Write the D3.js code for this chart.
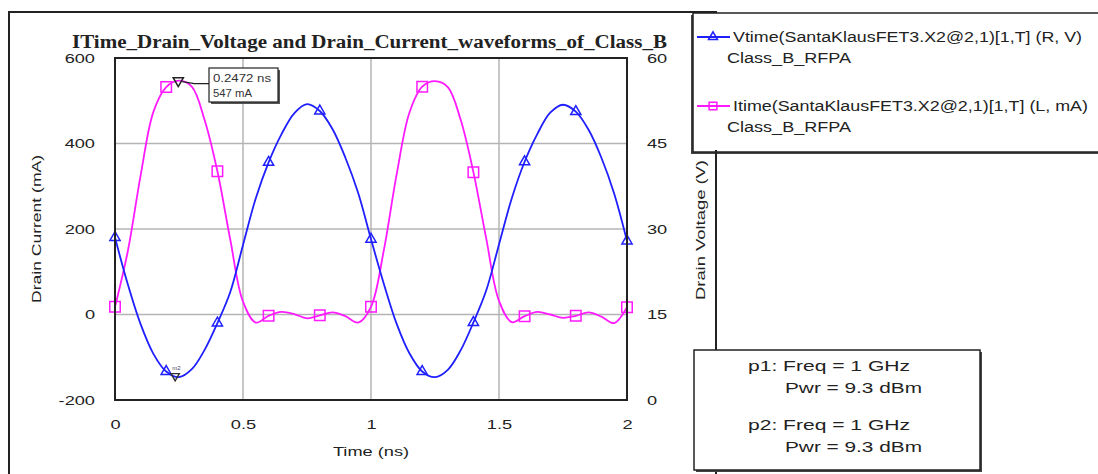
<!DOCTYPE html>
<html>
<head>
<meta charset="utf-8">
<style>
  body { margin: 0; background: #fff; }
  svg { display: block; font-family: 'Liberation Sans', Arial, sans-serif; }
  .tick text { fill: #222; font-size: 13px; }
  .lbl { fill: #222; font-size: 13px; }
</style>
</head>
<body>
<svg id="chart" width="1098" height="474"></svg>
<script src="https://d3js.org/d3.v7.min.js"></script>
<script>
'use strict';

// time samples (ns), every 0.05 ns
var timeNs = [0, 0.05, 0.1, 0.15, 0.2, 0.25, 0.3, 0.35, 0.4, 0.45, 0.5, 0.55, 0.6, 0.65, 0.7, 0.75, 0.8, 0.85, 0.9, 0.95, 1.0,
  1.05, 1.1, 1.15, 1.2, 1.25, 1.3, 1.35, 1.4, 1.45, 1.5, 1.55, 1.6, 1.65, 1.7, 1.75, 1.8, 1.85, 1.9, 1.95, 2.0];
// Vtime (V), right axis
var drainVoltage = [28.5, 20.3, 13.3, 8.1, 5.0, 4.0, 5.4, 8.8, 13.5, 18.9, 27.2, 35.4, 41.7, 46.6, 50.3, 51.9, 50.7, 47.5, 42.5, 36.3, 28.2,
  20.4, 13.4, 8.2, 5.0, 4.0, 5.3, 8.7, 13.6, 19.2, 27.3, 35.4, 41.8, 46.7, 50.4, 51.8, 50.6, 47.4, 42.5, 36.2, 27.9];
// Itime (mA), left axis
var drainCurrent = [18, 148, 325, 474, 532, 547, 533, 455, 335, 176, 30, -19, -3, 6, 1, -9, -2, 5, -4, -19, 18,
  150, 327, 472, 533, 546, 532, 456, 333, 178, 32, -18, -4, 6, 0, -8, -3, 5, -5, -20, 17];
var markerTimes = [0, 0.2, 0.4, 0.6, 0.8, 1.0, 1.2, 1.4, 1.6, 1.8, 2.0];

var xTicks = [0, 0.5, 1, 1.5, 2];
var currentTicks = [-200, 0, 200, 400, 600];
var voltageTicks = [0, 15, 30, 45, 60];

var m1Time = 0.2472, m1Current = 547;
var m2Time = 0.235, m2Voltage = 4.2;

var titleText = 'ITime_Drain_Voltage and Drain_Current_waveforms_of_Class_B';
var legendNames = ['Vtime(SantaKlausFET3.X2@2,1)[1,T] (R, V)', 'Itime(SantaKlausFET3.X2@2,1)[1,T] (L, mA)'];
var legendSub = 'Class_B_RFPA';
var paramLines = ['p1: Freq = 1 GHz', 'Pwr = 9.3 dBm', 'p2: Freq = 1 GHz', 'Pwr = 9.3 dBm'];

var blue = '#1f1fff', pink = '#ff1aff';
var svg = d3.select('#chart');

// the original screenshot is stretched sideways, so widen glyphs to match
function stretch(sel, k) {
  sel.each(function () {
    var w = this.getComputedTextLength();
    d3.select(this).attr('textLength', w * k).attr('lengthAdjust', 'spacingAndGlyphs');
  });
}
function fitTo(sel, w) {
  sel.attr('textLength', w).attr('lengthAdjust', 'spacingAndGlyphs');
}

var pLeft = 115, pRight = 627, pTop = 58, pBottom = 400;
var x = d3.scaleLinear().domain([0, 2]).range([pLeft, pRight]);
var yI = d3.scaleLinear().domain([-200, 600]).range([pBottom, pTop]);
var yV = d3.scaleLinear().domain([0, 60]).range([pBottom, pTop]);

// outer frame
svg.append('path')
  .attr('d', 'M9,480 L9,12 L716,12 L716,480')
  .attr('fill', 'none').attr('stroke', '#222').attr('stroke-width', 2);

// title
svg.append('text')
  .attr('x', 72).attr('y', 48)
  .style('font-family', "'Liberation Serif', 'Times New Roman', serif")
  .style('font-weight', 'bold').style('font-size', '18px').attr('fill', '#222')
  .text(titleText)
  .call(fitTo, 595);

// grid
var grid = svg.append('g').attr('stroke', '#b4b4b4').attr('stroke-width', 1.5);
grid.selectAll('.gx').data(xTicks).join('line')
  .attr('x1', d => x(d)).attr('x2', d => x(d)).attr('y1', pTop).attr('y2', pBottom);
grid.selectAll('.gy').data(currentTicks).join('line')
  .attr('x1', pLeft).attr('x2', pRight).attr('y1', d => yI(d)).attr('y2', d => yI(d));

// axes (labels only)
var plain = d => String(d);
var axL = svg.append('g').attr('transform', 'translate(' + (pLeft - 20) + ',0)')
  .call(d3.axisLeft(yI).tickValues(currentTicks).tickSize(0).tickPadding(0).tickFormat(plain));
var axR = svg.append('g').attr('transform', 'translate(' + (pRight + 20) + ',0)')
  .call(d3.axisRight(yV).tickValues(voltageTicks).tickSize(0).tickPadding(0).tickFormat(plain));
var axB = svg.append('g').attr('transform', 'translate(0,' + (pBottom + 20) + ')')
  .call(d3.axisBottom(x).tickValues(xTicks).tickSize(0).tickPadding(0).tickFormat(plain));
[axL, axR, axB].forEach(function (a) {
  a.select('.domain').remove();
  a.selectAll('text').call(stretch, 1.4);
});

svg.append('text').attr('class', 'lbl')
  .attr('transform', 'translate(36,' + 229 + ') rotate(-90)')
  .attr('text-anchor', 'middle').attr('dy', '0.35em').text('Drain Current (mA)').call(fitTo, 148);
svg.append('text').attr('class', 'lbl')
  .attr('transform', 'translate(700,' + 230 + ') rotate(-90)')
  .attr('text-anchor', 'middle').attr('dy', '0.35em').text('Drain Voltage (V)').call(fitTo, 140);
svg.append('text').attr('class', 'lbl')
  .attr('x', x(1)).attr('y', 451).attr('text-anchor', 'middle').attr('dy', '0.35em').text('Time (ns)')
  .call(stretch, 1.4);

// traces
svg.append('clipPath').attr('id', 'clip').append('rect')
  .attr('x', pLeft).attr('y', pTop).attr('width', pRight - pLeft).attr('height', pBottom - pTop);
var plot = svg.append('g').attr('clip-path', 'url(#clip)');

var lineV = d3.line().x((d, i) => x(timeNs[i])).y(d => yV(d)).curve(d3.curveCatmullRom.alpha(0.5));
var lineI = d3.line().x((d, i) => x(timeNs[i])).y(d => yI(d)).curve(d3.curveCatmullRom.alpha(0.5));

plot.append('path').datum(drainCurrent).attr('d', lineI)
  .attr('fill', 'none').attr('stroke', pink).attr('stroke-width', 1.8);
plot.append('path').datum(drainVoltage).attr('d', lineV)
  .attr('fill', 'none').attr('stroke', blue).attr('stroke-width', 1.8);

var tri = d3.symbol(d3.symbolTriangle, 45);
var sq = d3.symbol(d3.symbolSquare, 110);

svg.selectAll('.mkI').data(markerTimes).join('path')
  .attr('d', sq)
  .attr('transform', t => 'translate(' + x(t) + ',' + yI(drainCurrent[timeNs.indexOf(t)]) + ')')
  .attr('fill', 'none').attr('stroke', pink).attr('stroke-width', 1.5);
svg.selectAll('.mkV').data(markerTimes).join('path')
  .attr('d', tri)
  .attr('transform', t => 'translate(' + x(t) + ',' + yV(drainVoltage[timeNs.indexOf(t)]) + ')')
  .attr('fill', 'none').attr('stroke', blue).attr('stroke-width', 1.5);

// plot frame
svg.append('rect')
  .attr('x', pLeft).attr('y', pTop).attr('width', pRight - pLeft).attr('height', pBottom - pTop)
  .attr('fill', 'none').attr('stroke', '#222').attr('stroke-width', 2);

// marker m1 with readout
var m1x = x(m1Time), m1y = yI(m1Current);
svg.append('path').attr('d', 'M' + (m1x + 4) + ',' + (m1y + 1) + ' L' + (m1x + 16) + ',' + (m1y + 3) + ' L209,' + (m1y + 3))
  .attr('fill', 'none').attr('stroke', '#222').attr('stroke-width', 1.3);
svg.append('path').attr('d', tri)
  .attr('transform', 'translate(' + m1x + ',' + m1y + ') rotate(180)')
  .attr('fill', 'none').attr('stroke', '#222').attr('stroke-width', 1.5);
svg.append('rect').attr('x', 211).attr('y', 70).attr('width', 69).attr('height', 34).attr('fill', '#555');
svg.append('rect').attr('x', 209).attr('y', 68).attr('width', 69).attr('height', 34)
  .attr('fill', '#fff').attr('stroke', '#222').attr('stroke-width', 1.2);
svg.append('text').attr('x', 213).attr('y', 82).style('font-size', '11px').attr('fill', '#333')
  .text(m1Time + ' ns').call(fitTo, 58);
svg.append('text').attr('x', 213).attr('y', 97).style('font-size', '11px').attr('fill', '#333')
  .text(m1Current + ' mA').call(fitTo, 39);

// marker m2 on voltage minimum
svg.append('path').attr('d', d3.symbol(d3.symbolTriangle, 30))
  .attr('transform', 'translate(' + x(m2Time) + ',' + yV(m2Voltage) + ') rotate(180)')
  .attr('fill', 'none').attr('stroke', '#333').attr('stroke-width', 1.4);
svg.append('text').attr('x', x(m2Time) - 3).attr('y', yV(m2Voltage) - 6)
  .style('font-size', '6px').attr('fill', '#446').text('m2');

// legend box
svg.append('rect').attr('x', 691).attr('y', 15).attr('width', 420).attr('height', 139).attr('fill', '#444');
svg.append('rect').attr('x', 693).attr('y', 13).attr('width', 420).attr('height', 139)
  .attr('fill', '#fff').attr('stroke', '#222').attr('stroke-width', 1.5);
var legY = [37, 106];
var legColors = [blue, pink];
legY.forEach(function (ly, i) {
  svg.append('line').attr('x1', 697).attr('x2', 730).attr('y1', ly).attr('y2', ly)
    .attr('stroke', legColors[i]).attr('stroke-width', 1.8);
  svg.append('path').attr('d', i === 0 ? d3.symbol(d3.symbolTriangle, 35) : d3.symbol(d3.symbolSquare, 60))
    .attr('transform', 'translate(713,' + ly + ')')
    .attr('fill', 'none').attr('stroke', legColors[i]).attr('stroke-width', 1.5);
  svg.append('text').attr('class', 'lbl').attr('x', 733).attr('y', ly + 5).style('font-size', '14px')
    .text(legendNames[i]).call(fitTo, i === 0 ? 349 : 355);
  svg.append('text').attr('class', 'lbl').attr('x', 727).attr('y', ly + 26).style('font-size', '14px')
    .text(legendSub).call(fitTo, 124);
});

// parameter box
svg.append('line').attr('x1', 716).attr('x2', 716).attr('y1', 150).attr('y2', 352)
  .attr('stroke', '#222').attr('stroke-width', 2);
svg.append('rect').attr('x', 696).attr('y', 352).attr('width', 286).attr('height', 120).attr('fill', '#444');
svg.append('rect').attr('x', 694).attr('y', 350).attr('width', 286).attr('height', 120)
  .attr('fill', '#fff').attr('stroke', '#222').attr('stroke-width', 1.5);
var paramX = [748, 785, 748, 785];
var paramY = [366, 388, 425, 447];
var paramW = [162, 137, 162, 137];
paramLines.forEach(function (s, i) {
  svg.append('text').attr('class', 'lbl').attr('x', paramX[i]).attr('y', paramY[i]).attr('dy', '0.35em')
    .style('font-size', '15px').text(s).call(fitTo, paramW[i]);
});
</script>
</body>
</html>
